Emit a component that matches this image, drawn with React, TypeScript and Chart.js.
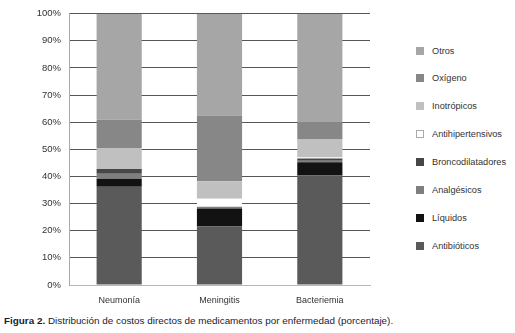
import React, { useEffect, useRef } from "react";
import { Chart, registerables } from "chart.js";

Chart.register(...registerables);

const categories = ["Neumonía", "Meningitis", "Bacteriemia"];
const seriesNames = [
  "Antibióticos",
  "Líquidos",
  "Analgésicos",
  "Broncodilatadores",
  "Antihipertensivos",
  "Inotrópicos",
  "Oxígeno",
  "Otros",
];
const antibioticos = [36.2, 21.6, 40.4];
const liquidos = [3.0, 6.6, 4.8];
const analgesicos = [1.8, 0.6, 0.6];
const broncodilatadores = [1.8, 0, 0.8];
const antihipertensivos = [0, 3.0, 0.4];
const inotropicos = [7.7, 6.4, 6.8];
const oxigeno = [10.4, 24.3, 6.3];
const otros = [39.1, 37.5, 39.9];
const seriesValues = [
  antibioticos,
  liquidos,
  analgesicos,
  broncodilatadores,
  antihipertensivos,
  inotropicos,
  oxigeno,
  otros,
];
const seriesColors = [
  "#5a5a5a",
  "#121212",
  "#7f7f7f",
  "#474747",
  "#ffffff",
  "#c0c0c0",
  "#878787",
  "#a6a6a6",
];
const yTicks = [0, 10, 20, 30, 40, 50, 60, 70, 80, 90, 100];

const FONT = "'Liberation Sans', Arial, Helvetica, sans-serif";

export default function App() {
  const ref = useRef<HTMLCanvasElement | null>(null);

  useEffect(() => {
    if (!ref.current) return;
    const chart = new Chart(ref.current, {
      type: "bar",
      data: {
        labels: categories,
        datasets: seriesNames.map((name, i) => ({
          label: name,
          data: seriesValues[i],
          backgroundColor: seriesColors[i],
          borderWidth: 0,
          barPercentage: 0.45,
          categoryPercentage: 1,
        })),
      },
      options: {
        animation: false,
        responsive: false,
        maintainAspectRatio: false,
        layout: { padding: { top: 7, right: 10, left: 0, bottom: 0 } },
        plugins: {
          legend: { display: false },
          tooltip: { enabled: false },
        },
        scales: {
          x: {
            stacked: true,
            grid: { display: false },
            border: { color: "#b8b8b8", width: 1 },
            ticks: {
              color: "#333",
              font: { family: FONT, size: 9 },
              padding: 2,
            },
            afterFit: (s: any) => {
              s.height = 20;
            },
          },
          y: {
            stacked: true,
            min: 0,
            max: 100,
            afterBuildTicks: (s: any) => {
              s.ticks = yTicks.map((v) => ({ value: v }));
            },
            grid: {
              color: "#555",
              lineWidth: 1,
              drawTicks: false,
            },
            border: { color: "#aaaaaa", width: 1 },
            ticks: {
              color: "#333",
              font: { family: FONT, size: 9.5 },
              padding: 8,
              callback: (v: any) => v + "%",
            },
            afterFit: (s: any) => {
              s.width = 69;
            },
          },
        },
      },
    });
    return () => chart.destroy();
  }, []);

  const legendItems = seriesNames
    .map((n, i) => ({ name: n, color: seriesColors[i] }))
    .reverse();

  return (
    <div
      style={{
        position: "fixed",
        left: 0,
        top: 0,
        width: 515,
        height: 333,
        background: "#fff",
        fontFamily: FONT,
      }}
    >
      <canvas
        ref={ref}
        width={380}
        height={305}
        style={{ position: "absolute", left: 0, top: 0, width: 380, height: 305 }}
      />
      {legendItems.map((it, i) => (
        <div
          key={it.name}
          style={{
            position: "absolute",
            left: 416,
            top: 50.5 + i * 27.9 - 5,
            height: 10,
            display: "flex",
            alignItems: "center",
            fontSize: 9.2,
            color: "#333",
            whiteSpace: "nowrap",
          }}
        >
          <span
            style={{
              display: "inline-block",
              width: it.color === "#ffffff" ? 6 : 8,
              height: it.color === "#ffffff" ? 6 : 8,
              background: it.color,
              border: it.color === "#ffffff" ? "1px solid #aaa" : "none",
              marginRight: 8,
            }}
          />
          {it.name}
        </div>
      ))}
      <div
        style={{
          position: "absolute",
          left: 4,
          top: 320.5 - 6,
          height: 12,
          lineHeight: "12px",
          fontSize: 9.9,
          color: "#1a1a33",
          whiteSpace: "nowrap",
        }}
      >
        <b>Figura 2.</b> Distribución de costos directos de medicamentos por enfermedad (porcentaje).
      </div>
    </div>
  );
}
